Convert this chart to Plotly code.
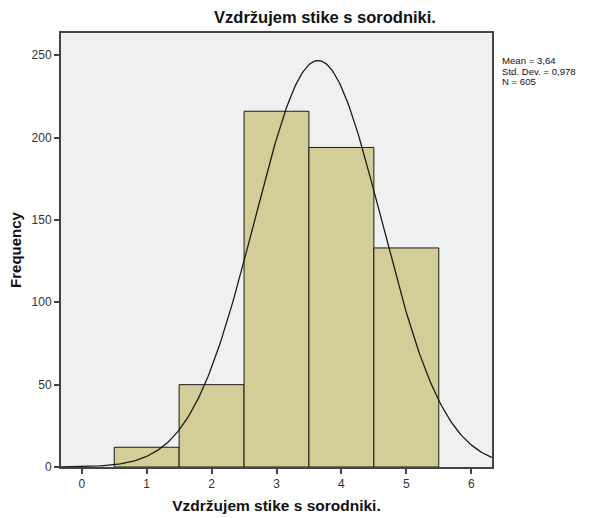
import numpy as np
import plotly.graph_objects as go

# Data
categories = [1, 2, 3, 4, 5]
frequencies = [12, 50, 216, 194, 133]
mean_val = 3.64
std_val = 0.978
n_val = 605
x_ticks = [0, 1, 2, 3, 4, 5, 6]
y_ticks = [0, 50, 100, 150, 200, 250]
title_text = "Vzdržujem stike s sorodniki."
ytitle_text = "Frequency"
stats_lines = ["Mean = 3,64", "Std. Dev. = 0,978", "N = 605"]

FONT = "Liberation Sans, Arial, sans-serif"

# Normal curve from the displayed statistics (bin width 1)
xs = np.linspace(-0.32, 6.32, 300)
ys = n_val * 1.0 / (std_val * np.sqrt(2 * np.pi)) * np.exp(-0.5 * ((xs - mean_val) / std_val) ** 2)

fig = go.Figure()
fig.add_trace(go.Bar(
    x=categories, y=frequencies, width=1,
    marker=dict(color="#D3CE98", line=dict(color="#1a1a1a", width=1)),
    hoverinfo="x+y",
))
fig.add_trace(go.Scatter(
    x=xs, y=ys, mode="lines",
    line=dict(color="#1a1a1a", width=1.3),
    hoverinfo="skip",
))

fig.update_layout(
    width=590, height=518,
    margin=dict(l=61, r=98, t=33, b=51, autoexpand=False),
    paper_bgcolor="white",
    plot_bgcolor="#EFF0F0",
    showlegend=False,
    font=dict(family=FONT, color="#222222"),
    title=dict(text=f"<b>{title_text}</b>", x=(325 - 61) / 431, xanchor="center",
               xref="paper", yref="container",
               y=1 - 17 / 518, yanchor="middle", font=dict(size=16.5, color="#111111"),
               automargin=False),
    xaxis=dict(
        range=[-0.32, 6.32], tickvals=x_ticks, ticktext=[str(t) for t in x_ticks],
        showgrid=False, zeroline=False, automargin=False,
        showline=True, linecolor="#444444", linewidth=2, mirror=True,
        ticks="outside", ticklen=5, tickwidth=1.5, tickcolor="#444444",
        tickfont=dict(size=12, color="#333333"),
        title=dict(text=f"<b>{title_text}</b>", font=dict(size=15.5, color="#111111"), standoff=10),
    ),
    yaxis=dict(
        range=[0, 263.5], tickvals=y_ticks, ticktext=[str(t) for t in y_ticks],
        showgrid=False, zeroline=False, automargin=False,
        showline=True, linecolor="#444444", linewidth=2, mirror=True,
        ticks="outside", ticklen=5, tickwidth=1.5, tickcolor="#444444",
        tickfont=dict(size=12, color="#333333"),
        title=dict(text=f"<b>{ytitle_text}</b>", font=dict(size=15, color="#111111"), standoff=6),
    ),
)

for i, line in enumerate(stats_lines):
    fig.add_annotation(
        xref="paper", yref="paper", x=(500 - 61) / 431, y=(467 - (60.5 + 10.6 * i)) / 434,
        xanchor="left", yanchor="middle",
        align="left", showarrow=False, text=line,
        font=dict(size=9.6, color="#111111", family=FONT),
    )

fig.write_html("out.html",
               config={"displayModeBar": False},
               post_script="document.body.style.margin='0';document.body.style.overflow='hidden';")
